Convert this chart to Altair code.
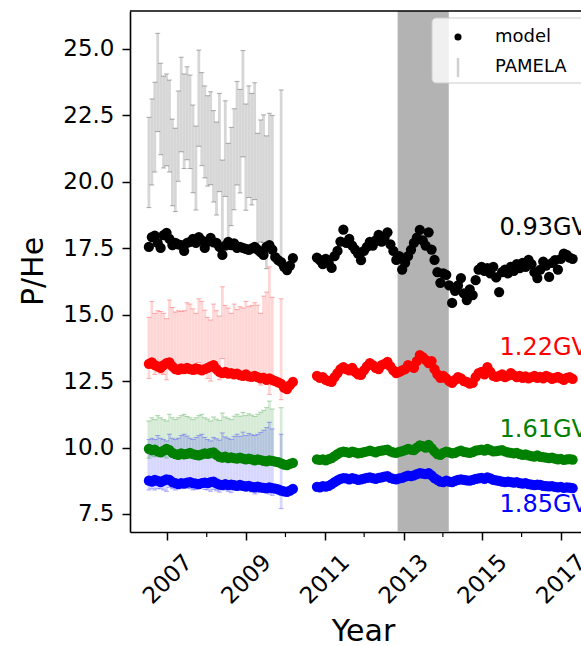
import altair as alt
import pandas as pd

# ---------------------------------------------------------------------------
# Data
# ---------------------------------------------------------------------------
# Model and PAMELA values are sampled once per Carrington rotation (27.2753 d).
CR_STEP = 27.2753 / 365.25
SEG1_START = 2006.53   # first model block (PAMELA era)
SEG2_START = 2010.80   # second model block

SERIES = ["0.93GV", "1.22GV", "1.61GV", "1.85GV"]
COLORS = ["black", "red", "green", "blue"]

# Model P/He, first block
M093_A = [17.55, 17.92, 17.98, 17.70, 17.51, 17.99, 18.08, 17.85, 17.62, 17.70,
          17.65, 17.62, 17.40, 17.70, 17.74, 17.85, 17.70, 17.92, 17.80, 17.51,
          17.75, 17.89, 17.72, 17.70, 17.55, 17.25, 17.60, 17.74, 17.62, 17.68,
          17.51, 17.55, 17.51, 17.48, 17.44, 17.50, 17.55, 17.45, 17.35, 17.25,
          17.55, 17.62, 17.45, 17.17, 17.05, 16.98, 16.80, 16.68, 16.85, 17.13]
M122_A = [13.15, 13.20, 13.10, 13.05, 13.00, 13.10, 13.18, 13.20, 13.05, 12.95,
          12.92, 12.98, 12.95, 13.00, 12.95, 12.92, 12.98, 12.95, 12.90, 12.95,
          13.00, 13.05, 13.10, 12.95, 12.85, 12.80, 12.85, 12.78, 12.80, 12.75,
          12.78, 12.72, 12.70, 12.75, 12.68, 12.66, 12.70, 12.65, 12.60, 12.62,
          12.55, 12.60, 12.55, 12.50, 12.45, 12.40, 12.25, 12.20, 12.35, 12.47]
M161_A = [9.95, 9.90, 9.92, 9.85, 9.82, 9.88, 9.95, 9.90, 9.80, 9.75,
          9.72, 9.78, 9.74, 9.76, 9.80, 9.75, 9.72, 9.70, 9.74, 9.78,
          9.76, 9.80, 9.82, 9.72, 9.65, 9.62, 9.66, 9.60, 9.63, 9.60,
          9.58, 9.62, 9.58, 9.55, 9.58, 9.55, 9.52, 9.55, 9.53, 9.50,
          9.48, 9.52, 9.50, 9.47, 9.45, 9.40, 9.36, 9.34, 9.38, 9.42]
M185_A = [8.75, 8.72, 8.78, 8.74, 8.70, 8.75, 8.80, 8.78, 8.70, 8.66,
          8.62, 8.66, 8.64, 8.68, 8.70, 8.66, 8.64, 8.62, 8.66, 8.68,
          8.66, 8.70, 8.72, 8.65, 8.60, 8.58, 8.62, 8.58, 8.60, 8.58,
          8.56, 8.59, 8.56, 8.54, 8.56, 8.52, 8.50, 8.53, 8.50, 8.48,
          8.46, 8.50, 8.47, 8.45, 8.42, 8.38, 8.35, 8.33, 8.38, 8.44]

# Model P/He, second block
M093_B = [17.15, 17.05, 16.90, 17.10, 16.95, 16.76, 17.20, 17.40, 17.75, 18.20,
          17.70, 17.85, 17.60, 17.45, 17.30, 17.05, 17.40, 17.55, 17.74, 17.60,
          17.80, 18.00, 17.75, 17.90, 18.10, 17.65, 17.40, 17.06, 17.20, 16.70,
          16.95, 17.20, 17.44, 17.70, 17.90, 18.19, 17.80, 17.60, 18.10, 17.45,
          17.06, 16.60, 16.20, 16.55, 16.50, 16.10, 15.44, 15.90, 16.10, 16.38,
          15.80, 15.55, 15.95, 15.74, 16.30, 16.70, 16.80, 16.65, 16.75, 16.55,
          16.80, 16.40, 15.85, 16.60, 16.70, 16.55, 16.80, 16.65, 16.90, 16.75,
          16.95, 16.80, 17.06, 16.90, 16.60, 16.38, 16.70, 17.00, 16.85, 16.42,
          16.95, 17.05, 16.70, 17.10, 17.30, 17.25, 17.15, 17.10]
M122_B = [12.70, 12.62, 12.65, 12.55, 12.50, 12.47, 12.65, 12.80, 12.95, 13.03,
          12.95, 12.90, 13.00, 12.85, 12.75, 12.73, 12.90, 13.05, 13.18, 13.10,
          13.00, 12.95, 13.10, 13.15, 13.22, 13.05, 12.90, 12.80, 12.85, 12.90,
          12.95, 13.10, 13.05, 13.00, 13.25, 13.48, 13.40, 13.30, 13.18, 13.25,
          12.95, 12.75, 12.62, 12.70, 12.60, 12.50, 12.43, 12.55, 12.65, 12.60,
          12.50, 12.47, 12.40, 12.43, 12.65, 12.80, 12.85, 12.75, 13.03, 12.85,
          12.70, 12.66, 12.70, 12.75, 12.65, 12.70, 12.80, 12.72, 12.65, 12.70,
          12.62, 12.68, 12.60, 12.65, 12.70, 12.62, 12.66, 12.60, 12.70, 12.65,
          12.58, 12.62, 12.66, 12.60, 12.55, 12.62, 12.65, 12.58]
M161_B = [9.55, 9.53, 9.55, 9.52, 9.56, 9.60, 9.68, 9.75, 9.82, 9.85,
          9.83, 9.80, 9.85, 9.82, 9.78, 9.80, 9.83, 9.85, 9.88, 9.85,
          9.82, 9.86, 9.88, 9.90, 9.92, 9.85, 9.82, 9.80, 9.84, 9.86,
          9.90, 9.95, 9.92, 9.90, 10.00, 10.08, 10.05, 10.00, 10.10, 9.98,
          9.85, 9.75, 9.72, 9.80, 9.85, 9.82, 9.78, 9.80, 9.85, 9.88,
          9.84, 9.82, 9.80, 9.83, 9.88, 9.90, 9.92, 9.88, 9.95, 9.90,
          9.85, 9.86, 9.88, 9.90, 9.85, 9.82, 9.80, 9.78, 9.80, 9.75,
          9.72, 9.74, 9.70, 9.68, 9.66, 9.70, 9.65, 9.64, 9.62, 9.60,
          9.62, 9.58, 9.55, 9.57, 9.53, 9.55, 9.56, 9.54]
M185_B = [8.52, 8.50, 8.55, 8.53, 8.56, 8.62, 8.70, 8.76, 8.82, 8.85,
          8.84, 8.80, 8.85, 8.82, 8.78, 8.80, 8.83, 8.86, 8.88, 8.85,
          8.82, 8.86, 8.88, 8.90, 8.92, 8.86, 8.82, 8.80, 8.84, 8.86,
          8.90, 8.94, 8.92, 8.95, 9.00, 9.04, 9.02, 9.00, 9.04, 8.95,
          8.85, 8.78, 8.72, 8.70, 8.75, 8.72, 8.70, 8.74, 8.78, 8.80,
          8.78, 8.76, 8.75, 8.78, 8.82, 8.84, 8.86, 8.82, 8.88, 8.84,
          8.78, 8.76, 8.74, 8.72, 8.70, 8.72, 8.70, 8.68, 8.70, 8.66,
          8.64, 8.66, 8.62, 8.60, 8.58, 8.60, 8.59, 8.56, 8.55, 8.54,
          8.55, 8.52, 8.50, 8.52, 8.48, 8.50, 8.49, 8.47]

# PAMELA measurements: rotation index within the first block, value, error
PAM_IDX = list(range(43)) + [45]
P093 = [20.73, 21.50, 22.06, 23.74, 22.74, 22.25, 22.33, 22.10, 20.73, 20.45,
        21.72, 22.91, 22.28, 22.58, 22.26, 21.24, 20.52, 23.15, 22.36, 21.88,
        21.54, 21.64, 20.96, 20.50, 21.48, 19.02, 21.25, 19.60, 20.20, 20.85,
        21.83, 21.53, 22.94, 20.93, 21.51, 21.23, 21.53, 19.73, 20.03, 20.12,
        19.23, 19.98, 19.80, 20.26]
E093 = [1.70, 1.62, 1.69, 1.85, 1.72, 1.73, 1.73, 1.73, 1.63, 1.57,
        1.70, 1.78, 1.78, 1.75, 1.76, 1.65, 1.58, 1.81, 1.75, 1.73,
        1.70, 1.75, 1.72, 1.75, 1.85, 1.80, 1.80, 1.85, 1.85, 1.90,
        1.95, 1.95, 2.00, 2.00, 2.10, 2.10, 2.20, 2.10, 2.30, 2.40,
        2.50, 2.60, 2.70, 3.20]
P122 = [13.75, 14.30, 13.90, 14.00, 13.95, 13.90, 13.70, 14.35, 14.10, 13.95,
        14.00, 13.95, 14.00, 14.25, 14.20, 14.05, 13.90, 14.40, 14.30, 14.00,
        13.75, 13.65, 14.20, 13.95, 13.75, 14.70, 14.10, 14.00, 13.85, 14.15,
        13.95, 14.05, 14.00, 14.20, 14.00, 14.05, 14.10, 14.00, 13.70, 14.25,
        14.30, 14.40, 14.00, 13.70]
E122 = [1.15, 1.20, 1.15, 1.15, 1.17, 1.15, 1.15, 1.20, 1.17, 1.15,
        1.15, 1.17, 1.15, 1.20, 1.20, 1.17, 1.15, 1.20, 1.20, 1.17,
        1.15, 1.15, 1.20, 1.20, 1.20, 1.35, 1.25, 1.25, 1.20, 1.25,
        1.25, 1.25, 1.25, 1.30, 1.30, 1.30, 1.35, 1.35, 1.35, 1.45,
        1.55, 2.40, 1.65, 1.90]
P161 = [10.30, 10.40, 10.35, 10.45, 10.40, 10.35, 10.30, 10.50, 10.40, 10.35,
        10.40, 10.45, 10.50, 10.45, 10.40, 10.35, 10.40, 10.45, 10.50, 10.40,
        10.35, 10.30, 10.40, 10.35, 10.30, 10.50, 10.40, 10.35, 10.30, 10.40,
        10.45, 10.40, 10.50, 10.40, 10.45, 10.40, 10.35, 10.40, 10.45, 10.50,
        10.55, 10.60, 10.45, 10.40]
E161 = [0.70, 0.72, 0.70, 0.75, 0.72, 0.70, 0.70, 0.75, 0.72, 0.70,
        0.72, 0.75, 0.75, 0.72, 0.72, 0.70, 0.72, 0.75, 0.75, 0.72,
        0.72, 0.70, 0.75, 0.72, 0.72, 0.80, 0.75, 0.75, 0.75, 0.78,
        0.80, 0.78, 0.82, 0.80, 0.82, 0.82, 0.82, 0.85, 0.88, 0.90,
        0.95, 1.15, 1.00, 1.10]
P185 = [9.35, 9.40, 9.35, 9.45, 9.40, 9.35, 9.30, 9.50, 9.40, 9.35,
        9.40, 9.45, 9.50, 9.45, 9.40, 9.35, 9.40, 9.45, 9.50, 9.40,
        9.35, 9.30, 9.40, 9.35, 9.30, 9.50, 9.40, 9.35, 9.30, 9.40,
        9.45, 9.40, 9.50, 9.40, 9.45, 9.40, 9.35, 9.40, 9.45, 9.50,
        9.55, 9.60, 9.45, 9.10]
E185 = [0.95, 0.95, 0.95, 1.00, 0.95, 0.95, 0.95, 1.00, 0.95, 0.95,
        0.95, 1.00, 1.00, 0.98, 0.95, 0.95, 0.98, 1.00, 1.00, 0.98,
        0.95, 0.95, 0.98, 0.98, 0.98, 1.05, 1.00, 1.00, 1.00, 1.02,
        1.05, 1.02, 1.08, 1.05, 1.08, 1.08, 1.10, 1.10, 1.12, 1.15,
        1.20, 1.35, 1.25, 1.40]

# Magnetic-field reversal period (shaded)
BAND = [2012.85, 2014.15]

# Curve labels
LABEL_T = 2015.44
LABEL_V = [18.0, 13.48, 10.40, 7.57]

# ---------------------------------------------------------------------------
# Tables
# ---------------------------------------------------------------------------
def times(start, n):
    return [start + i * CR_STEP for i in range(n)]

model_rows = []
for name, a, b in zip(SERIES, [M093_A, M122_A, M161_A, M185_A],
                      [M093_B, M122_B, M161_B, M185_B]):
    for t, v in zip(times(SEG1_START, len(a)), a):
        model_rows.append({"t": t, "v": v, "series": name})
    for t, v in zip(times(SEG2_START, len(b)), b):
        model_rows.append({"t": t, "v": v, "series": name})
model = pd.DataFrame(model_rows)

pam_rows = []
for name, vals, errs in zip(SERIES, [P093, P122, P161, P185],
                            [E093, E122, E161, E185]):
    for k, v, e in zip(PAM_IDX, vals, errs):
        pam_rows.append({"t": SEG1_START + k * CR_STEP, "lo": v - e,
                         "hi": v + e, "series": name})
pamela = pd.DataFrame(pam_rows)

labels = pd.DataFrame({"t": [LABEL_T] * 4, "v": LABEL_V, "series": SERIES})
band = pd.DataFrame({"t": [BAND[0]], "t2": [BAND[1]]})
minor = pd.DataFrame({"t": [2008, 2010, 2012, 2014, 2016]})

# ---------------------------------------------------------------------------
# Scales, axes
# ---------------------------------------------------------------------------
W, H = 451, 521
FONT = "DejaVu Sans"

x_scale = alt.Scale(domain=[2006.05, 2017.51], nice=False, zero=False)
y_scale = alt.Scale(domain=[6.82, 26.43], nice=False, zero=False)
color = alt.Color("series:N", scale=alt.Scale(domain=SERIES, range=COLORS),
                  legend=None)

X_AXIS = alt.Axis(values=[2007, 2009, 2011, 2013, 2015, 2017], format="d",
                  title="Year", labelAngle=315, labelAlign="center",
                  labelBaseline="middle", labelPadding=39,
                  titleX=233, titleY=108, titleAlign="center",
                  titleBaseline="alphabetic")
Y_AXIS = alt.Axis(values=[7.5, 10, 12.5, 15, 17.5, 20, 22.5, 25], format=".1f",
                  title="P/He", titleAngle=270, titleX=-88, titleY=260,
                  titleAlign="center", titleBaseline="alphabetic",
                  labelPadding=8)

X = lambda f="t:Q": alt.X(f, scale=x_scale, axis=X_AXIS)
Y = lambda f="v:Q": alt.Y(f, scale=y_scale, axis=Y_AXIS)

# ---------------------------------------------------------------------------
# Layers
# ---------------------------------------------------------------------------
band_layer = alt.Chart(band).mark_rect(color="#b3b3b3").encode(
    x=X(), x2="t2:Q", y=alt.value(0), y2=alt.value(H))

pam_bars = alt.Chart(pamela).mark_rule(strokeWidth=2.8, opacity=0.16).encode(
    x=X(), y=Y("lo:Q"), y2="hi:Q", color=color)
pam_caps_lo = alt.Chart(pamela).mark_tick(
    orient="horizontal", size=5, thickness=1, opacity=0.3).encode(
    x=X(), y=Y("lo:Q"), color=color)
pam_caps_hi = alt.Chart(pamela).mark_tick(
    orient="horizontal", size=5, thickness=1, opacity=0.3).encode(
    x=X(), y=Y("hi:Q"), color=color)

points = alt.Chart(model).mark_circle(size=105, opacity=1).encode(
    x=X(), y=Y(), color=color)

text = alt.Chart(labels).mark_text(
    align="left", baseline="alphabetic", font=FONT, fontSize=24, clip=True
).encode(x=X(), y=Y(), text="series:N", color=color)

minor_ticks = alt.Chart(minor).mark_rule(color="black", strokeWidth=1.2).encode(
    x=X(), y=alt.value(H), y2=alt.value(H + 5))

top_spine = alt.Chart(band).mark_rule(color="black", strokeWidth=1.6).encode(
    x=alt.value(0), x2=alt.value(W), y=alt.value(0))

# Legend box in the upper right corner
leg_box = alt.Chart(band).mark_rect(
    fill="white", fillOpacity=0.8, stroke="#cccccc", strokeWidth=1,
    cornerRadius=4, clip=True).encode(
    x=alt.value(302), x2=alt.value(W + 40), y=alt.value(7), y2=alt.value(72))
leg_dot = alt.Chart(band).mark_circle(size=50, color="black", opacity=1).encode(
    x=alt.value(328), y=alt.value(26))
leg_bar = alt.Chart(band).mark_rule(color="#d0d0d0", strokeWidth=2.5).encode(
    x=alt.value(328), y=alt.value(47), y2=alt.value(66))
leg_text_model = alt.Chart(band).mark_text(
    align="left", baseline="middle", font=FONT, fontSize=18, color="black",
    text="model", clip=True).encode(x=alt.value(365), y=alt.value(26))
leg_text_pam = alt.Chart(band).mark_text(
    align="left", baseline="middle", font=FONT, fontSize=18, color="black",
    text="PAMELA", clip=True).encode(x=alt.value(365), y=alt.value(56))

chart = alt.layer(
    band_layer, pam_bars, pam_caps_lo, pam_caps_hi, points, text,
    minor_ticks, top_spine,
    leg_box, leg_dot, leg_bar, leg_text_model, leg_text_pam,
).properties(
    width=W, height=H,
    autosize=alt.AutoSizeParams(type="none"),
    padding={"left": 130, "top": 11, "right": 0, "bottom": 114},
    background="white",
).configure_view(
    strokeWidth=0
).configure_axis(
    grid=False, domainColor="black", domainWidth=1.6,
    tickColor="black", tickWidth=1.5, tickSize=8,
    labelFont=FONT, labelFontSize=23, labelColor="black",
    labelOverlap=False, labelFlush=False,
    titleFont=FONT, titleFontSize=30, titleFontWeight="normal",
    titleColor="black",
)

chart.save("out.html", embed_options={"renderer": "svg", "actions": False})
